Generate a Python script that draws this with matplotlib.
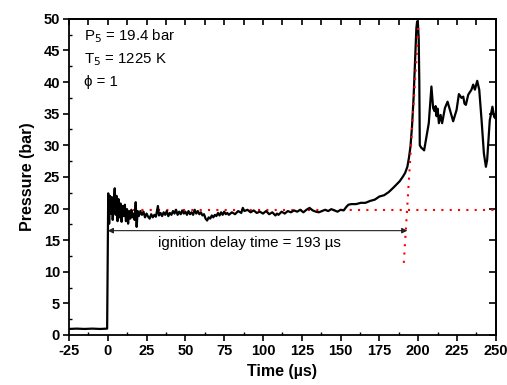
#!/usr/bin/env python3

import numpy as np
import matplotlib
matplotlib.use('Agg')
import matplotlib.pyplot as plt
from matplotlib.ticker import MultipleLocator

plt.rcParams['font.family'] = ['Liberation Sans', 'DejaVu Sans']
plt.rcParams['axes.unicode_minus'] = False

# pressure trace (time in us, pressure in bar)
time_us = [-25, -20, -15, -10, -5, -0.4,
           0.3, 0.9, 1.4, 2.0, 2.6, 3.2, 3.8, 4.5, 5.1, 5.7, 6.3, 6.9, 7.5, 8.2,
           8.9, 9.6, 10.3, 11.0, 11.7, 12.4, 13.1, 13.8, 14.5, 15.2, 15.9, 16.6,
           17.3, 18.0, 18.6, 19.3, 20.0, 21, 22, 23, 24, 25, 26, 27, 28, 29, 30,
           31, 32.3, 33, 34, 35, 36, 37, 38, 39, 40, 41, 42, 43, 44, 45, 46, 47,
           48, 49, 50, 51, 52, 53, 54, 55, 56, 57, 58, 59, 60, 61, 62, 63, 64,
           65, 66, 67, 68, 69, 70, 71, 72, 73, 74, 75, 76, 77, 78, 80, 82, 84,
           86, 87, 88, 90, 92, 94, 96, 98, 100, 102, 104, 106, 108, 109, 110,
           112, 114, 116, 118, 120, 122, 124, 126, 128, 130, 132, 134, 136, 138,
           140, 142, 144, 146, 148, 150, 152, 153.5, 155, 157, 160, 163, 166,
           169, 172, 175, 178, 181, 184, 186, 188, 190, 191.5, 193, 194, 195,
           196, 197, 198, 198.8, 199.3, 199.8, 200.3, 200.7, 201.0, 202.0,
           203.0, 203.8, 205.3, 206.8, 208.5, 209.6, 210.5, 211.2, 211.8, 212.5,
           213.3, 214.4, 215.4, 217.2, 218.9, 220.4, 222.5, 224.7, 226.2, 227.9,
           229, 229.8, 230.7, 232.2, 234.3, 235.4, 236.5, 238, 239.3, 240.8,
           242.3, 243.6, 244.4, 246.1, 247.8, 248.9, 250]
pressure_bar = [0.95, 1.0, 0.95, 1.0, 0.95, 1.0,
                22.4, 17.6, 22.0, 19.2, 21.8, 18.2, 21.2, 23.2, 19.0, 22.0, 18.0,
                21.5, 18.6, 20.8, 17.9, 20.4, 18.8, 20.6, 18.0, 19.9, 17.6, 19.6,
                18.4, 19.8, 18.6, 19.2, 18.2, 21.0, 17.1, 19.6, 18.8, 19.6, 19.0,
                19.5, 18.6, 19.2, 18.7, 18.4, 19.1, 18.6, 19.0, 18.7, 20.4, 18.9,
                19.3, 18.8, 19.4, 19.0, 19.6, 18.8, 19.3, 19.0, 19.6, 19.2, 19.8,
                19.0, 19.5, 19.1, 19.7, 19.2, 19.5, 19.0, 19.6, 19.1, 19.4, 19.0,
                19.8, 19.2, 19.6, 19.1, 19.4, 18.9, 19.1, 18.4, 18.1, 18.6, 18.4,
                18.9, 18.6, 19.0, 18.8, 19.3, 18.9, 19.4, 19.0, 19.5, 19.1, 19.3,
                19.0, 19.4, 19.1, 19.6, 19.3, 20.1, 19.6, 19.8, 19.4, 19.7, 19.3,
                19.5, 19.2, 19.6, 19.1, 19.4, 18.9, 19.2, 19.0, 19.5, 19.2, 19.6,
                19.4, 19.7, 19.5, 19.8, 19.4, 19.8, 20.1, 19.7, 19.5, 19.4, 19.6,
                19.8, 19.6, 19.9, 19.7, 19.5, 19.8, 19.7, 20.2, 20.6, 20.7, 20.7,
                20.9, 20.9, 21.2, 21.4, 21.9, 22.1, 22.6, 23.3, 23.8, 24.3, 25.0,
                25.6, 26.6, 28.0, 29.8, 33.0, 37.5, 43.5, 48.5, 49.6, 49.3, 47.0,
                40.0, 30.0, 29.6, 29.4, 29.2, 31.4, 33.5, 39.3, 35.9, 35.4, 36.2,
                34.6, 35.8, 33.5, 34.8, 33.5, 35.9, 36.9, 35.6, 33.8, 35.6, 38.1,
                37.5, 37.7, 36.6, 36.4, 38.0, 38.8, 39.6, 38.8, 40.2, 38.8, 34.0,
                28.7, 26.6, 27.7, 34.0, 36.1, 34.5, 34.2]

# construction lines: plateau level and steepest-rise tangent
plateau_t = [0, 250]
plateau_p = [19.8, 19.8]
tangent_t = [190.7, 200.1]
tangent_p = [11.4, 48.8]
ign_delay = 193
arrow_p = 16.5

conditions = ['P$_5$ = 19.4 bar', 'T$_5$ = 1225 K', '\u03d5 = 1']


def main():
    fig = plt.figure(figsize=(5.07, 3.85), dpi=100)
    ax = fig.add_axes([0.136, 0.130, 0.842, 0.821])

    ax.plot(time_us, pressure_bar, color='black', lw=1.6, zorder=3)
    ax.plot(plateau_t, plateau_p, color='red', lw=1.5, ls=(0, (1, 3)), zorder=2)
    ax.plot(tangent_t, tangent_p, color='red', lw=1.5, ls=(0, (1, 3)), zorder=4)

    ax.annotate('', xy=(ign_delay, arrow_p), xytext=(0, arrow_p),
                arrowprops=dict(arrowstyle='<|-|>', color='#222222', lw=0.8,
                                mutation_scale=8, shrinkA=0, shrinkB=0))
    ax.text(91.5, 14.5, 'ignition delay time = %d \u00b5s' % ign_delay,
            ha='center', va='center', fontsize=10.8)

    for i, s in enumerate(conditions):
        ax.text(-15, 47.2 - 3.6 * i, s, ha='left', va='center', fontsize=10.8)

    ax.set_xlim(-25, 250)
    ax.set_ylim(0, 50)
    ax.xaxis.set_major_locator(MultipleLocator(25))
    ax.xaxis.set_minor_locator(MultipleLocator(12.5))
    ax.yaxis.set_major_locator(MultipleLocator(5))
    ax.yaxis.set_minor_locator(MultipleLocator(2.5))
    ax.tick_params(which='major', direction='out', length=4, width=1.2,
                   labelsize=10.5, pad=2.5)
    ax.tick_params(which='minor', direction='in', length=2.5, width=1.0)
    for lab in ax.get_xticklabels() + ax.get_yticklabels():
        lab.set_fontweight('bold')

    top = ax.secondary_xaxis('top')
    top.xaxis.set_major_locator(MultipleLocator(12.5))
    top.tick_params(direction='in', length=4, width=1.2, labeltop=False)
    right = ax.secondary_yaxis('right')
    right.yaxis.set_major_locator(MultipleLocator(5))
    right.tick_params(direction='in', length=5, width=1.2, labelright=False)

    for sp in ax.spines.values():
        sp.set_linewidth(1.3)
    top.spines['top'].set_linewidth(1.3)
    right.spines['right'].set_linewidth(1.3)

    ax.set_xlabel('Time (\u00b5s)', fontsize=11.5, fontweight='bold', labelpad=4)
    ax.set_ylabel('Pressure (bar)', fontsize=11.5, fontweight='bold', labelpad=6)

    fig.savefig('out.png', dpi=100)


if __name__ == '__main__':
    main()
